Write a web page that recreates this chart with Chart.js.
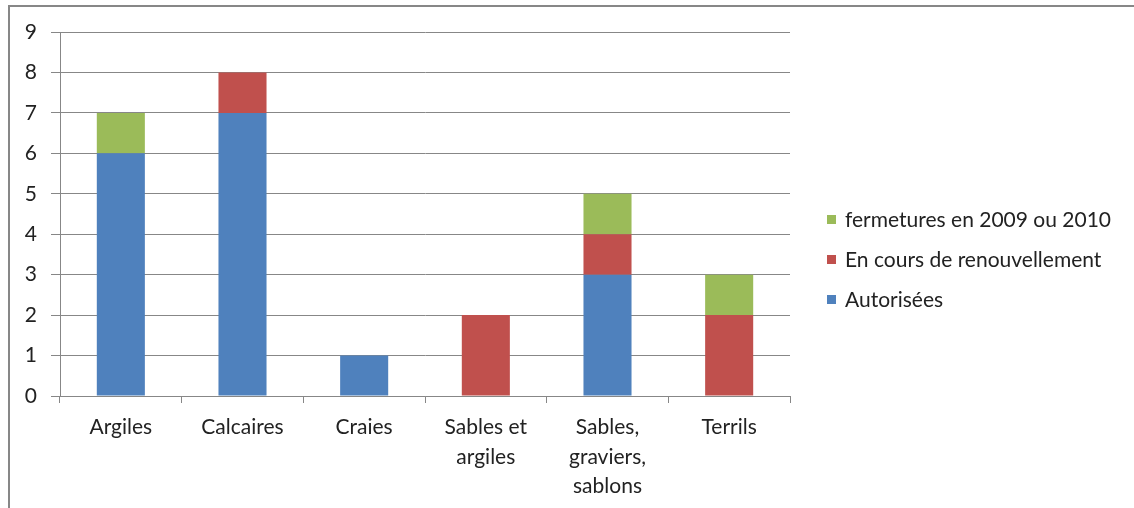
<!DOCTYPE html>
<html>
<head>
<meta charset="utf-8">
<script src="https://cdn.jsdelivr.net/npm/chart.js"></script>
<style>
    html, body { margin: 0; padding: 0; background: #fff; }
    #wrap { position: relative; width: 1134px; height: 508px; overflow: hidden; }
    #frame { position: absolute; left: 8px; top: 5px; width: 1200px; height: 600px;
             border-top: 2px solid #878787; border-left: 2px solid #878787; pointer-events: none; }
    #legend { position: absolute; left: 827px; top: 199px; font-family: Lato, sans-serif; font-size: 21px; color: #222; }
    #legend .item { height: 40px; line-height: 40px; display: flex; align-items: center; }
    #legend .box { width: 9px; height: 9px; margin-right: 9px; }
</style>
</head>
<body>
<div id="wrap">
    <canvas id="chart" width="1134" height="508"></canvas>
    <div id="frame"></div>
    <div id="legend"></div>
</div>
<script>
// categories and series
const categories = ['Argiles', 'Calcaires', 'Craies', ['Sables et', 'argiles'], ['Sables,', 'graviers,', 'sablons'], 'Terrils'];
const autorisees = [6, 7, 1, 0, 3, 0];
const enCours = [0, 1, 0, 2, 1, 2];
const fermetures = [1, 0, 0, 0, 1, 1];
const yTicks = [0, 1, 2, 3, 4, 5, 6, 7, 8, 9];

const seriesNames = ['Autorisées', 'En cours de renouvellement', 'fermetures en 2009 ou 2010'];
const seriesColors = ['#4f81bd', '#c0504d', '#9bbb59'];

const gridColor = '#878787';
const textColor = '#222';
const font = { family: 'Lato, sans-serif', size: 21 };

const ctx = document.getElementById('chart').getContext('2d');

new Chart(ctx, {
    type: 'bar',
    data: {
        labels: categories,
        datasets: [autorisees, enCours, fermetures].map((values, i) => ({
            label: seriesNames[i],
            data: values,
            backgroundColor: seriesColors[i],
            borderWidth: 0,
            barPercentage: 0.395,
            categoryPercentage: 1.0
        }))
    },
    options: {
        responsive: false,
        animation: false,
        layout: {
            padding: { left: 0, top: 32, right: 344, bottom: 0 }
        },
        scales: {
            x: {
                stacked: true,
                afterFit: scale => { scale.height = 112; },
                grid: { drawOnChartArea: false, drawTicks: true, tickLength: 7, color: gridColor },
                border: { color: gridColor },
                ticks: { color: textColor, font: { ...font, lineHeight: 1.4 }, padding: 10, maxRotation: 0 }
            },
            y: {
                stacked: true,
                min: 0,
                max: 9,
                afterFit: scale => { scale.width = 60; },
                afterBuildTicks: scale => { scale.ticks = yTicks.map(v => ({ value: v })); },
                grid: { color: gridColor, tickLength: 9 },
                border: { color: gridColor },
                ticks: { color: textColor, font: font, padding: 14 }
            }
        },
        plugins: {
            legend: { display: false },
            tooltip: { enabled: false }
        }
    }
});

// legend, top to bottom in reverse series order
const legend = document.getElementById('legend');
for (let i = seriesNames.length - 1; i >= 0; i--) {
    const item = document.createElement('div');
    item.className = 'item';
    item.innerHTML = `<span class="box" style="background:${seriesColors[i]}"></span>${seriesNames[i]}`;
    legend.appendChild(item);
}
</script>
</body>
</html>
